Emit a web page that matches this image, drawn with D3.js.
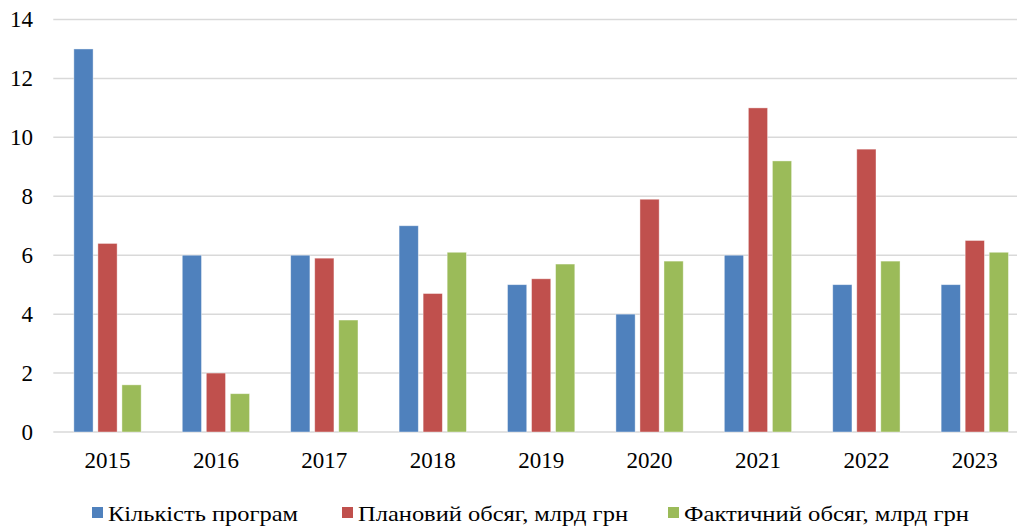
<!DOCTYPE html>
<html>
  <head>
    <meta charset="UTF-8" />
    <script src="https://d3js.org/d3.v7.min.js"></script>
    <style>
      body { margin: 0; }
      .lbl { font-family: 'Times New Roman', 'Liberation Serif', Tinos, serif; }
    </style>
  </head>
  <body>
    <script>
      // data
      var years = ["2015", "2016", "2017", "2018", "2019", "2020", "2021", "2022", "2023"];
      var seriesNames = [
        "Кількість програм",
        "Плановий обсяг, млрд грн",
        "Фактичний обсяг, млрд грн",
      ];
      var programs = [13, 6, 6, 7, 5, 4, 6, 5, 5];
      var planned = [6.4, 2, 5.9, 4.7, 5.2, 7.9, 11, 9.6, 6.5];
      var actual = [1.6, 1.3, 3.8, 6.1, 5.7, 5.8, 9.2, 5.8, 6.1];
      var yTicks = [0, 2, 4, 6, 8, 10, 12, 14];
      var colors = ["#4f81bd", "#c0504d", "#9bbb59"];

      var values = [programs, planned, actual];

      var svg = d3
        .select("body")
        .append("svg")
        .attr("width", 1017)
        .attr("height", 526)
        .style("display", "block");

      // plot area runs past the right edge (the source picture is cropped)
      var x0 = d3.scaleBand().domain(years).range([53.3, 1029]);
      var groupW = 67.3;
      var x1 = d3
        .scaleBand()
        .domain(seriesNames)
        .range([0, groupW])
        .paddingInner(0.2);
      var y = d3.scaleLinear().domain([0, 14]).range([432, 19.5]);

      // gridlines
      svg
        .append("g")
        .selectAll("line")
        .data(yTicks)
        .enter()
        .append("line")
        .attr("x1", 53.3)
        .attr("x2", 1029)
        .attr("y1", (d) => y(d))
        .attr("y2", (d) => y(d))
        .attr("stroke", "#d9d9d9")
        .attr("stroke-width", 1.5);

      // y labels
      svg
        .append("g")
        .selectAll("text")
        .data(yTicks)
        .enter()
        .append("text")
        .attr("class", "lbl")
        .attr("x", 33)
        .attr("y", (d) => y(d) + 7.5)
        .attr("text-anchor", "end")
        .style("font-size", "23px")
        .attr("fill", "#000")
        .text((d) => d);

      // bars
      var rows = years.map((yr, i) =>
        seriesNames.map((s, j) => ({ year: yr, series: s, value: values[j][i], c: colors[j] }))
      );
      var groups = svg
        .append("g")
        .selectAll("g")
        .data(rows)
        .enter()
        .append("g")
        .attr("transform", (d, i) => {
          var cx = x0(years[i]) + x0.bandwidth() / 2;
          return "translate(" + (cx - groupW / 2) + ",0)";
        });
      groups
        .selectAll("rect")
        .data((d) => d)
        .enter()
        .append("rect")
        .attr("x", (d) => x1(d.series))
        .attr("y", (d) => y(d.value))
        .attr("width", x1.bandwidth())
        .attr("height", (d) => y(0) - y(d.value))
        .attr("fill", (d) => d.c)
        .attr("stroke", "#fff")
        .attr("stroke-opacity", 0.5)
        .attr("stroke-width", 0.8);

      // x labels
      svg
        .append("g")
        .selectAll("text")
        .data(years)
        .enter()
        .append("text")
        .attr("class", "lbl")
        .attr("x", (d) => x0(d) + x0.bandwidth() / 2)
        .attr("y", 468)
        .attr("text-anchor", "middle")
        .style("font-size", "23px")
        .attr("fill", "#000")
        .text((d) => d);

      // legend
      var legendX = [92, 342, 668];
      var legendW = [190, 270, 285];
      var legend = svg
        .append("g")
        .selectAll("g")
        .data(seriesNames)
        .enter()
        .append("g")
        .attr("transform", (d, i) => "translate(" + legendX[i] + ",0)");
      legend
        .append("rect")
        .attr("x", 0)
        .attr("y", 507)
        .attr("width", 11)
        .attr("height", 11)
        .attr("fill", (d, i) => colors[i]);
      legend
        .append("text")
        .attr("class", "lbl")
        .attr("x", 16)
        .attr("y", 521)
        .style("font-size", "21px")
        .attr("fill", "#000")
        .attr("textLength", (d, i) => legendW[i])
        .attr("lengthAdjust", "spacingAndGlyphs")
        .text((d) => d);
    </script>
  </body>
</html>
